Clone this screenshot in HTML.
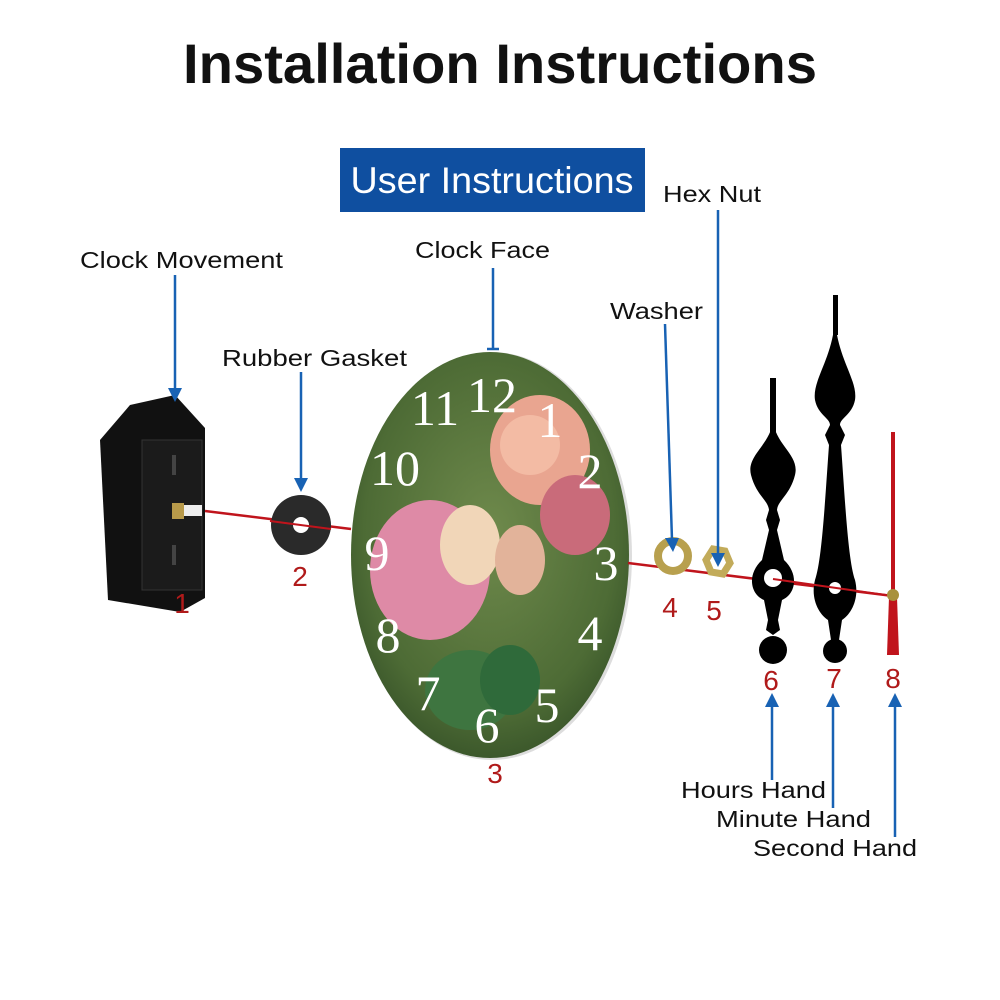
<!DOCTYPE html>
<html><head><meta charset="utf-8"><style>
html,body{margin:0;padding:0;background:#fff;}
svg{display:block}
.s{font-family:"Liberation Sans",Arial,sans-serif}
.n{font-family:"Liberation Serif",serif}
</style></head><body>
<svg width="1000" height="1000" viewBox="0 0 1000 1000" xmlns="http://www.w3.org/2000/svg">
<defs>
<radialGradient id="bg" cx="50%" cy="45%" r="60%">
<stop offset="0" stop-color="#6f8a4c"/><stop offset="0.7" stop-color="#4d6b35"/><stop offset="1" stop-color="#2f4a24"/>
</radialGradient>
<clipPath id="cf"><ellipse cx="490" cy="555" rx="139" ry="203"/></clipPath>
</defs>
<text class="s" x="500" y="83" font-size="56" font-weight="bold" text-anchor="middle" fill="#111" textLength="634" lengthAdjust="spacingAndGlyphs">Installation Instructions</text>
<rect x="340" y="148" width="305" height="64" fill="#0f4fa0"/>
<text class="s" x="492" y="193" font-size="37" text-anchor="middle" fill="#fff" textLength="283" lengthAdjust="spacingAndGlyphs">User Instructions</text>

<g class="s" font-size="23" fill="#111">
<text x="80" y="268" textLength="203" lengthAdjust="spacingAndGlyphs">Clock Movement</text>
<text x="222" y="366" textLength="185" lengthAdjust="spacingAndGlyphs">Rubber Gasket</text>
<text x="415" y="258" textLength="135" lengthAdjust="spacingAndGlyphs">Clock Face</text>
<text x="610" y="319" textLength="93" lengthAdjust="spacingAndGlyphs">Washer</text>
<text x="663" y="202" textLength="98" lengthAdjust="spacingAndGlyphs">Hex Nut</text>
<text x="681" y="798" textLength="145" lengthAdjust="spacingAndGlyphs">Hours Hand</text>
<text x="716" y="827" textLength="155" lengthAdjust="spacingAndGlyphs">Minute Hand</text>
<text x="753" y="856" textLength="164" lengthAdjust="spacingAndGlyphs">Second Hand</text>
</g>

<!-- clock movement -->
<polygon points="100,440 130,405 175,395 205,428 205,598 180,612 108,600" fill="#111"/>
<rect x="142" y="440" width="60" height="150" fill="#1b1b1b" stroke="#333"/>
<rect x="172" y="455" width="4" height="20" fill="#444"/>
<rect x="172" y="545" width="4" height="20" fill="#444"/>
<rect x="172" y="503" width="12" height="16" fill="#b89a4a"/>
<rect x="184" y="505" width="18" height="11" fill="#eee"/>

<!-- clock face -->
<ellipse cx="492" cy="556" rx="140" ry="204" fill="#ddd"/>
<g clip-path="url(#cf)">
<rect x="340" y="340" width="300" height="430" fill="url(#bg)"/>
<ellipse cx="540" cy="450" rx="50" ry="55" fill="#e9a590"/>
<ellipse cx="530" cy="445" rx="30" ry="30" fill="#f3bba4"/>
<ellipse cx="575" cy="515" rx="35" ry="40" fill="#c96b7a"/>
<ellipse cx="430" cy="570" rx="60" ry="70" fill="#de8aa6"/>
<ellipse cx="470" cy="545" rx="30" ry="40" fill="#f1d6b8"/>
<ellipse cx="520" cy="560" rx="25" ry="35" fill="#e2b39a"/>
<ellipse cx="470" cy="690" rx="45" ry="40" fill="#3e7540"/>
<ellipse cx="510" cy="680" rx="30" ry="35" fill="#2f6a3a"/>
</g>
<g class="n" fill="#fff" font-size="50" text-anchor="middle">
<text x="492" y="412">12</text><text x="435" y="425">11</text>
<text x="395" y="485">10</text><text x="377" y="570">9</text>
<text x="388" y="652">8</text><text x="428" y="710">7</text>
<text x="487" y="742">6</text><text x="547" y="722">5</text>
<text x="590" y="650">4</text><text x="606" y="580">3</text>
<text x="590" y="488">2</text><text x="550" y="437">1</text>
</g>

<!-- red axis line -->
<line x1="205" y1="511" x2="351" y2="529" stroke="#c0141c" stroke-width="2.5"/>
<line x1="628" y1="563" x2="893" y2="596" stroke="#c0141c" stroke-width="2.5"/>

<!-- gasket -->
<circle cx="301" cy="525" r="30" fill="#2a2a2a"/>
<circle cx="301" cy="525" r="8" fill="#fff"/>
<line x1="270" y1="521" x2="331" y2="529" stroke="#c0141c" stroke-width="2"/>

<!-- washer & nut -->
<circle cx="673" cy="556" r="15" fill="none" stroke="#b8a04e" stroke-width="8"/>
<polygon points="706,560 713,549 725,551 730,563 723,574 711,572" fill="none" stroke="#c2ab5a" stroke-width="7"/>

<!-- hour hand -->
<g fill="#000">
<rect x="770" y="378" width="6" height="60"/>
<path d="M773,420 C775,445 800,455 795,475 C790,495 778,500 777,510 L780,520 L777,530 L784,560 C800,575 795,595 782,600 L778,620 L780,630 L773,635 L766,630 L768,620 L764,600 C751,595 746,575 762,560 L769,530 L766,520 L769,510 C768,500 756,495 751,475 C746,455 771,445 773,420Z"/>
<circle cx="773" cy="650" r="14"/>
</g>
<circle cx="773" cy="578" r="9" fill="#fff"/>
<!-- minute hand -->
<g fill="#000">
<rect x="833" y="295" width="5" height="40"/>
<path d="M835,320 C838,360 858,380 855,400 C852,415 840,418 840,425 L845,435 L841,445 C845,500 848,560 855,580 C860,600 850,615 842,620 L839,640 L835,645 L831,640 L828,620 C820,615 810,600 815,580 C822,560 825,500 829,445 L825,435 L830,425 C830,418 818,415 815,400 C812,380 832,360 835,320Z"/>
<circle cx="835" cy="651" r="12"/>
</g>
<circle cx="835" cy="588" r="6" fill="#fff"/>
<line x1="773" y1="579" x2="893" y2="596" stroke="#c0141c" stroke-width="2"/>
<!-- second hand -->
<rect x="891" y="432" width="4" height="165" fill="#c0141c"/>
<path d="M889,597 L897,597 L899,655 L887,655Z" fill="#c0141c"/>
<circle cx="893" cy="595" r="6" fill="#a8913c"/>

<!-- blue arrows -->
<g stroke="#1862b4" stroke-width="2.5" fill="#1862b4">
<line x1="175" y1="275" x2="175" y2="390"/><polygon points="168,388 182,388 175,402" stroke="none"/>
<line x1="301" y1="372" x2="301" y2="480"/><polygon points="294,478 308,478 301,492" stroke="none"/>
<line x1="493" y1="268" x2="493" y2="350"/><line x1="487" y1="349" x2="499" y2="349"/>
<line x1="665" y1="324" x2="672" y2="540"/><polygon points="665,538 679,538 673,552" stroke="none"/>
<line x1="718" y1="210" x2="718" y2="555"/><polygon points="711,553 725,553 718,567" stroke="none"/>
<line x1="772" y1="780" x2="772" y2="705"/><polygon points="765,707 779,707 772,693" stroke="none"/>
<line x1="833" y1="808" x2="833" y2="705"/><polygon points="826,707 840,707 833,693" stroke="none"/>
<line x1="895" y1="837" x2="895" y2="705"/><polygon points="888,707 902,707 895,693" stroke="none"/>
</g>

<!-- numbers -->
<g class="s" fill="#b01a1a" font-size="28" text-anchor="middle">
<text x="182" y="613">1</text><text x="300" y="586">2</text>
<text x="495" y="783">3</text><text x="670" y="617">4</text>
<text x="714" y="620">5</text><text x="771" y="690">6</text>
<text x="834" y="688">7</text><text x="893" y="688">8</text>
</g>
</svg>
</body></html>
